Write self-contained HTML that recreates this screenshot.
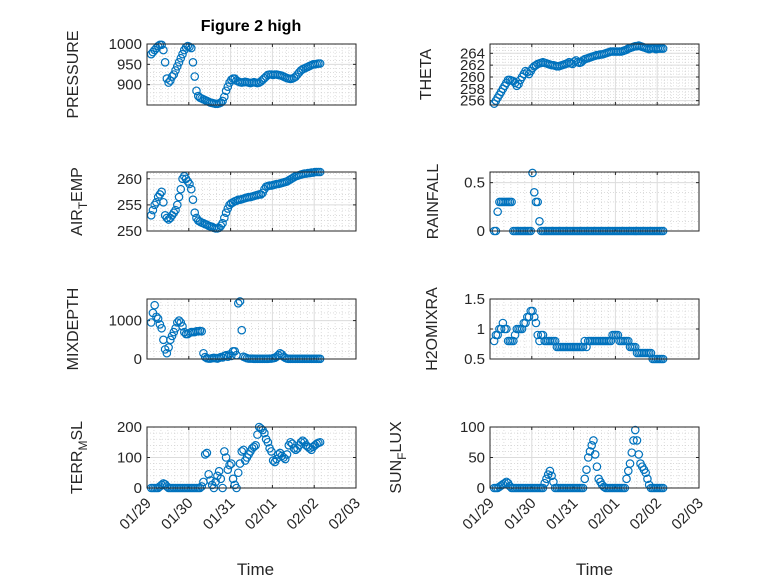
<!DOCTYPE html>
<html><head><meta charset="utf-8"><style>
html,body{margin:0;padding:0;background:#fff;}
svg{display:block;font-family:"Liberation Sans",sans-serif;}
</style></head><body>
<svg id="fig" width="778" height="583" viewBox="0 0 778 583">
<rect width="778" height="583" fill="#fff"/>
<text x="251" y="31" text-anchor="middle" font-size="16" font-weight="bold" fill="#000">Figure 2 high</text>
</svg>
<script>
const startDay = 0.1;
const stepDay = 1/24;
const xTickLabels = ["01/29","01/30","01/31","02/01","02/02","02/03"];
const pressure = [975,980,985,990,995,998,998, 985,955,915,905,910, 920,925,935,945,955,965,975, 985,992,995,993,990, 955,920,885,872,868,866, 864,862,860,858,856,855,854,853,853,854,856,860, 870,885,895,905,912,915, 915,910,908,906,905,906,907,906,905,904,905,906, 905,904,905,908,912,916,920,924,925,925,924,925, 925,924,923,922,920,918,916,915,914,915,917,920, 925,930,935,938,940,942,944,946,948,950,950,951,952,952];
const airTemp = [253,254,255,255.5,256.5,257,257.5, 255.5,253,252.5,252.2,252.5, 253,253.5,254,255,256.5,258,260, 260.5,260,259.5,259,258, 256,253.5,252.5,252,251.8,251.6, 251.5,251.3,251.2,251,250.9,250.8,250.6,250.5,250.5,250.6,251,251.5, 252.5,253.5,254.3,255,255.3,255.5, 255.7,255.8,256,256,256.1,256.2,256.3,256.4,256.5,256.5,256.6,256.7, 256.8,256.9,257,257,257.3,258,258.5,258.6,258.7,258.7,258.8,258.9, 259,259,259.1,259.2,259.3,259.4,259.5,259.7,259.9,260.1,260.3,260.5, 260.6,260.7,260.8,260.9,261,261,261.1,261.1,261.2,261.2,261.3,261.3,261.3,261.3];
const mixDepth = [950,1200,1400,1100,1050,900,800, 500,250,150,300,500, 600,700,800,950,1000,950,850, 700,650,650,680,700, 700,700,720,720,730,720, 150,50,20,10,10,20,30,20,10,30,50,40, 80,100,60,120,80,200, 200,100,1450,1500,750,60,40,20,10,10,10,5, 5,5,5,5,5,5,5,5,10,10,20,30, 60,100,150,120,60,30,10,5,5,5,5,5, 5,5,5,5,5,5,5,5,5,5,5,5,5,5];
const terrMsl = [0,0,0,0,0,5,10, 15,12,5,0,0, 0,0,0,0,0,0,0, 0,0,0,0,0, 0,0,0,0,0,5, 20,110,115,45,25,10,0,20,40,55,30,0, 120,100,60,75,80,30, 10,0,50,80,120,125,90,100,110,120,130,135, 140,175,200,195,190,180,160,150,130,120,90,85, 95,110,115,105,100,95,110,140,150,145,130,125, 130,140,150,155,150,140,135,130,125,135,140,145,148,150];
const theta = [255.5,256,256.5,257,257.5,258,258.5, 259,259.5,259.5,259.4,259.3, 259,258.5,258.8,259.5,260,260.5,261, 260.8,260.5,261,261.5,261.8, 262,262.2,262.3,262.4,262.5,262.4, 262.3,262.2,262.1,262,262,261.9,261.8,261.8,261.9,262,262.1,262.2, 262.3,262.5,262.3,262.2,262.6,262.8, 262.5,262.4,262.5,262.8,263,263.1,263.2,263.3,263.4,263.5,263.6,263.7, 263.7,263.8,263.8,263.9,264,264.1,264.2,264.3,264.3,264.3,264.3,264.3, 264.3,264.3,264.4,264.5,264.6,264.8,264.9,265,265.1,265.2,265.2,265.3, 265.2,265.1,265,264.9,264.8,264.7,264.8,264.9,264.8,264.7,264.8,264.8,264.8,264.8];
const rainfall = [0,0,0.2,0.3,0.3,0.3,0.3, 0.3,0.3,0.3,0.3,0, 0,0,0,0,0,0,0, 0,0,0,0.6,0.4, 0.3,0.3,0.1,0,0,0, 0,0,0,0,0,0,0,0,0,0,0,0, 0,0,0,0,0,0, 0,0,0,0,0,0,0,0,0,0,0,0, 0,0,0,0,0,0,0,0,0,0,0,0, 0,0,0,0,0,0,0,0,0,0,0,0, 0,0,0,0,0,0,0,0,0,0,0,0,0,0];
const h2oMixRatio = [0.8,0.9,0.9,1.0,1.0,1.1,1.0, 1.0,0.8,0.8,0.8,0.8, 0.9,1.0,1.0,1.0,1.0,1.1,1.1, 1.2,1.2,1.3,1.3,1.2, 1.1,0.9,0.8,0.9,0.9,0.8, 0.8,0.8,0.8,0.8,0.8,0.8,0.7,0.7,0.7,0.7,0.7,0.7, 0.7,0.7,0.7,0.7,0.7,0.7, 0.7,0.7,0.7,0.7,0.8,0.7,0.8,0.8,0.8,0.8,0.8,0.8, 0.8,0.8,0.8,0.8,0.8,0.8,0.8,0.8,0.9,0.9,0.9,0.9, 0.8,0.8,0.8,0.8,0.8,0.8,0.7,0.7,0.7,0.7,0.6,0.6, 0.6,0.6,0.6,0.6,0.6,0.6,0.6,0.5,0.5,0.5,0.5,0.5,0.5,0.5];
const sunFlux = [0,0,0,2,4,6,8, 10,8,3,0,0, 0,0,0,0,0,0,0, 0,0,0,0,0, 0,0,0,0,0,8, 15,22,28,20,10,0,0,0,0,0,0,0, 0,0,0,0,0,0, 0,0,0,0,15,30,50,60,70,78,55,35, 15,10,5,2,0,0,0,0,0,0,0,0, 0,0,0,0,15,28,40,58,78,95,78,55, 40,35,30,25,15,5,0,0,0,0,0,0,0,0];

const NS="http://www.w3.org/2000/svg";
const svg=document.getElementById('fig');
function mk(tag,attrs,parent){const e=document.createElementNS(NS,tag);for(const k in attrs)e.setAttribute(k,attrs[k]);(parent||svg).appendChild(e);return e;}

const panels=[
 {name:'pressure',data:pressure,x0:147,x1:356,y0:44,y1:105,ymin:850,ymax:1000,ticks:[900,950,1000],minor:10,label:['PRESSURE'],lx:78,bottom:false},
 {name:'theta',data:theta,x0:490,x1:699,y0:44,y1:105,ymin:255.27,ymax:265.57,ticks:[256,258,260,262,264],minor:0.5,label:['THETA'],lx:431,bottom:false},
 {name:'air-temp',data:airTemp,x0:147,x1:356,y0:172,y1:231,ymin:250,ymax:261.3,ticks:[250,255,260],minor:1,label:['AIR','T','EMP'],lx:82,bottom:false},
 {name:'rainfall',data:rainfall,x0:490,x1:699,y0:172,y1:231,ymin:0,ymax:0.61,ticks:[0,0.5],minor:0.1,label:['RAINFALL'],lx:438,bottom:false},
 {name:'mixdepth',data:mixDepth,x0:147,x1:356,y0:299,y1:359,ymin:0,ymax:1562,ticks:[0,1000],minor:200,label:['MIXDEPTH'],lx:78,bottom:false},
 {name:'h2o-mix-ratio',data:h2oMixRatio,x0:490,x1:699,y0:299,y1:359,ymin:0.5,ymax:1.5,ticks:[0.5,1,1.5],minor:0.1,label:['H2OMIXRA'],lx:437,bottom:false},
 {name:'terr-msl',data:terrMsl,x0:147,x1:356,y0:427,y1:488,ymin:0,ymax:200,ticks:[0,100,200],minor:20,label:['TERR','M','SL'],lx:82,bottom:true},
 {name:'sun-flux',data:sunFlux,x0:490,x1:699,y0:427,y1:488,ymin:0,ymax:100,ticks:[0,50,100],minor:10,label:['SUN','F','LUX'],lx:401,bottom:true}
];

panels.forEach(p=>{
 const g=mk('g',{});
 
 
 const xs=d=>p.x0+(d/5)*(p.x1-p.x0);
 const ys=v=>p.y1-(v-p.ymin)/(p.ymax-p.ymin)*(p.y1-p.y0);
 mk('rect',{x:p.x0,y:p.y0,width:p.x1-p.x0,height:p.y1-p.y0,fill:'#fff'},g);
 for(let d=0;d<=5.0001;d+=1/6){ if(Math.abs(d-Math.round(d))<1e-6) continue; const x=xs(d); mk('line',{x1:x,x2:x,y1:p.y0,y2:p.y1,stroke:'#c8c8c8','stroke-width':0.6,'stroke-dasharray':'1,2'},g);}
 const m0=Math.ceil(p.ymin/p.minor-1e-9);
 for(let k=m0;k*p.minor<=p.ymax+1e-9;k++){const v=k*p.minor; if(p.ticks.some(t=>Math.abs(t-v)<1e-6)) continue; const y=ys(v); mk('line',{x1:p.x0,x2:p.x1,y1:y,y2:y,stroke:'#c8c8c8','stroke-width':0.6,'stroke-dasharray':'1,2'},g);}
 for(let d=1;d<5;d++){const x=xs(d); mk('line',{x1:x,x2:x,y1:p.y0,y2:p.y1,stroke:'#dcdcdc','stroke-width':1},g);}
 p.ticks.forEach(t=>{const y=ys(t); mk('line',{x1:p.x0,x2:p.x1,y1:y,y2:y,stroke:'#dcdcdc','stroke-width':1},g);
   mk('line',{x1:p.x0,x2:p.x0+3,y1:y,y2:y,stroke:'#262626','stroke-width':1},g);
   mk('line',{x1:p.x1,x2:p.x1-3,y1:y,y2:y,stroke:'#262626','stroke-width':1},g);
   const tl=mk('text',{x:p.x0-5,y:y+5,'text-anchor':'end','font-size':15,fill:'#262626'},g);
   tl.textContent=String(t);
   
   
 });
 for(let d=0;d<=5;d++){const x=xs(d); mk('line',{x1:x,x2:x,y1:p.y1,y2:p.y1-3,stroke:'#262626','stroke-width':1},g); mk('line',{x1:x,x2:x,y1:p.y0,y2:p.y0+3,stroke:'#262626','stroke-width':1},g);
   if(p.bottom){const tl=mk('text',{x:x+5,y:p.y1+16,'text-anchor':'end','font-size':15,fill:'#262626',transform:`rotate(-45 ${x+5} ${p.y1+16})`},g);
     tl.textContent=xTickLabels[d];
     
     }
 }
 p.data.forEach((v,i)=>{const c=mk('circle',{cx:xs(startDay+i*stepDay),cy:ys(v),r:3.7,fill:'none',stroke:'#0072BD','stroke-width':1.2},g);
   
   });
 mk('rect',{x:p.x0,y:p.y0,width:p.x1-p.x0,height:p.y1-p.y0,fill:'none',stroke:'#262626','stroke-width':1},g);
 const cy=(p.y0+p.y1)/2;
 const lab=mk('text',{x:p.lx,y:cy,'text-anchor':'middle','font-size':16,fill:'#262626',transform:`rotate(-90 ${p.lx} ${cy})`},g);
 
 
 if(p.label.length===1){lab.textContent=p.label[0];}
 else{const a=mk('tspan',{},lab);a.textContent=p.label[0];
   const b=mk('tspan',{dy:5,'font-size':12},lab);b.textContent=p.label[1];
   const c=mk('tspan',{dy:-5},lab);c.textContent=p.label[2];}
 if(p.bottom){const t=mk('text',{x:(p.x0+p.x1)/2+(p.x0<200?4:0),y:575,'text-anchor':'middle','font-size':17,fill:'#262626'},g);
   t.textContent='Time';
   
   }
});
</script>
</body></html>
